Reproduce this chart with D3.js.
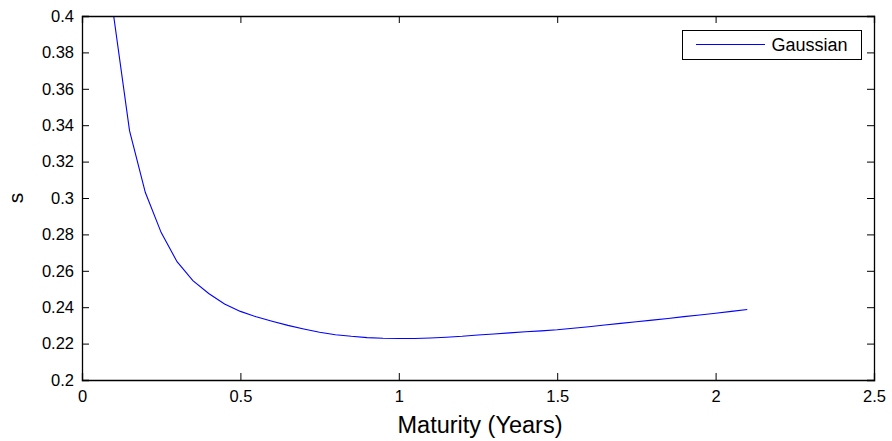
<!DOCTYPE html>
<html>
<head>
<meta charset="utf-8">
<script src="https://cdn.jsdelivr.net/npm/d3@7"></script>
<style>
  body { margin: 0; background: #fff; }
  svg text { font-family: "Liberation Sans", Arial, sans-serif; fill: #000; }
</style>
</head>
<body>
<div id="chart"></div>
<script>
// Maturity (years) and the Gaussian s values
var maturity = [0.10, 0.15, 0.20, 0.25, 0.30, 0.35, 0.40, 0.45, 0.50, 0.55,
                0.60, 0.65, 0.70, 0.75, 0.80, 0.85, 0.90, 0.95, 1.00, 1.05,
                1.10, 1.15, 1.20, 1.25, 1.30, 1.35, 1.40, 1.45, 1.50, 1.55,
                1.60, 1.65, 1.70, 1.75, 1.80, 1.85, 1.90, 1.95, 2.00, 2.05, 2.10];
var gaussian = [0.4000, 0.3370, 0.3030, 0.2810, 0.2650, 0.2546, 0.2475, 0.2418, 0.2377, 0.2347,
                0.2323, 0.2300, 0.2280, 0.2262, 0.2249, 0.2240, 0.2233, 0.2229, 0.2228, 0.2228,
                0.2231, 0.2235, 0.2240, 0.2247, 0.2253, 0.2259, 0.2265, 0.2270, 0.2276, 0.2284,
                0.2293, 0.2302, 0.2311, 0.2320, 0.2329, 0.2338, 0.2348, 0.2357, 0.2367, 0.2377, 0.2387];
var xTicks = [0, 0.5, 1, 1.5, 2, 2.5];
var yTicks = [0.2, 0.22, 0.24, 0.26, 0.28, 0.3, 0.32, 0.34, 0.36, 0.38, 0.4];
var seriesName = "Gaussian";

var margin = {top: 16, right: 18, bottom: 61, left: 82},
    width = 892 - margin.left - margin.right,
    height = 441 - margin.top - margin.bottom;

var svg = d3.select("#chart")
  .append("svg")
    .attr("width", 892)
    .attr("height", 441)
  .append("g")
    .attr("transform", "translate(" + margin.left + "," + margin.top + ")");

var x = d3.scaleLinear().domain([0, 2.5]).range([0, width]);
var y = d3.scaleLinear().domain([0.2, 0.4]).range([height, 0]);

svg.append("clipPath").attr("id", "clip")
  .append("rect").attr("width", width).attr("height", height);

// line
var line = d3.line()
  .x(function(d, i) { return x(maturity[i]); })
  .y(function(d) { return y(d); });
svg.append("path")
  .datum(gaussian)
  .attr("clip-path", "url(#clip)")
  .attr("fill", "none")
  .attr("stroke", "#0000ff")
  .attr("stroke-width", 1.1)
  .attr("d", line);

// axes, ticks pointing inward on every side
function fmt(d) { return String(+d.toFixed(2)); }
var axisB = svg.append("g")
  .attr("transform", "translate(0," + height + ")")
  .call(d3.axisBottom(x).tickValues(xTicks).tickSize(-7).tickPadding(10).tickFormat(fmt));
var axisT = svg.append("g")
  .call(d3.axisTop(x).tickValues(xTicks).tickSize(-7).tickFormat(""));
var axisL = svg.append("g")
  .call(d3.axisLeft(y).tickValues(yTicks).tickSize(-7).tickPadding(8).tickFormat(fmt));
var axisR = svg.append("g")
  .attr("transform", "translate(" + width + ",0)")
  .call(d3.axisRight(y).tickValues(yTicks).tickSize(-7).tickFormat(""));

[axisB, axisT, axisL, axisR].forEach(function(g) {
  g.select(".domain").attr("stroke", "#000").attr("stroke-width", 1.3);
  g.selectAll(".tick line").attr("stroke", "#000");
  g.selectAll(".tick text").style("font-size", "16.5px")
    .style("font-family", "'Liberation Sans', Arial, sans-serif");
});

// axis labels
svg.append("text")
  .attr("text-anchor", "middle")
  .attr("x", width / 2 + 2)
  .attr("y", 433 - margin.top)
  .style("font-size", "23.5px")
  .text("Maturity (Years)");

svg.append("text")
  .attr("text-anchor", "middle")
  .attr("transform", "rotate(-90)")
  .attr("x", -(198 - margin.top))
  .attr("y", 22.7 - margin.left)
  .style("font-size", "21px")
  .text("s");

// legend
var lg = svg.append("g").attr("transform", "translate(" + (682.5 - margin.left) + "," + (30.5 - margin.top) + ")");
lg.append("rect")
  .attr("width", 179).attr("height", 29)
  .attr("fill", "#fff").attr("stroke", "#000").attr("stroke-width", 1);
lg.append("line")
  .attr("x1", 13.5).attr("x2", 82.5).attr("y1", 14).attr("y2", 14)
  .attr("stroke", "#0000ff").attr("stroke-width", 1.1);
lg.append("text")
  .attr("x", 89).attr("y", 20.5)
  .style("font-size", "18px")
  .text(seriesName);
</script>
</body>
</html>
